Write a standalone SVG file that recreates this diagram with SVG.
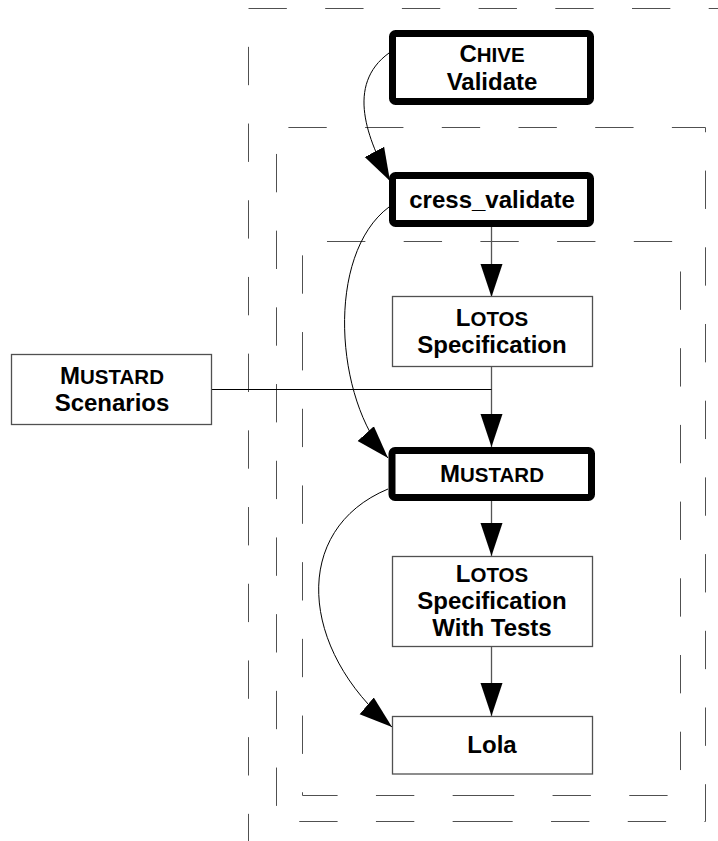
<svg xmlns="http://www.w3.org/2000/svg" width="718" height="841" viewBox="0 0 718 841">
  <style>
    .bg { fill: #ffffff; }
    .frame { fill: none; stroke: #505050; stroke-width: 1; stroke-dasharray: 38.35 38.35; }
    .box { fill: #ffffff; stroke: #505050; stroke-width: 1.3; }
    .tool { fill: #ffffff; stroke: #000000; stroke-width: 7; stroke-linejoin: round; }
    .lbl { font-family: "Liberation Sans", Arial, sans-serif; font-weight: bold; font-size: 24px; fill: #000000; text-anchor: middle; }
    .sc { font-size: 20.5px; }
    .flow { fill: none; stroke: #555555; stroke-width: 1.3; }
    .curve { fill: none; stroke: #000000; stroke-width: 1; }
    .join { fill: none; stroke: #000000; stroke-width: 1.2; }
  </style>
  <defs>
    <marker id="head" markerUnits="userSpaceOnUse" markerWidth="34" markerHeight="24" viewBox="0 0 34 24" refX="33" refY="12" orient="auto">
      <path d="M0,1 L33,12 L0,23 Z" fill="#000000"/>
    </marker>
  </defs>

  <rect class="bg" x="0" y="0" width="718" height="841"/>

  <!-- nested dashed frames -->
  <g id="frames">
    <path class="frame" d="M248.5,841 V8.5 H718" stroke-dashoffset="11.2"/>
    <path class="frame" d="M491,821.5 H276.5 V127.5 H705.5 V821.5 Z"/>
    <path class="frame" d="M491,795.5 H302.5 V241.5 H680.5 V795.5 Z"/>
  </g>

  <!-- connectors -->
  <g id="connectors">
    <path class="curve" d="M389,53 C345,85 368,140 390,181" marker-end="url(#head)"/>
    <path class="curve" d="M389,207 C325,255 335,400 388,458" marker-end="url(#head)"/>
    <path class="curve" d="M388,489 C290,530 300,650 392,727" marker-end="url(#head)"/>
    <path class="flow" d="M491.5,227 V297" marker-end="url(#head)"/>
    <path class="flow" d="M491.5,366 V447" marker-end="url(#head)"/>
    <path class="join" d="M212,389.5 H491.5"/>
    <path class="flow" d="M491.5,501 V556" marker-end="url(#head)"/>
    <path class="flow" d="M491.5,646 V716" marker-end="url(#head)"/>
  </g>

  <g id="chive-validate">
    <rect class="tool" x="392.5" y="33.5" width="198" height="68" rx="3"/>
    <text class="lbl" x="492" y="62">C<tspan class="sc">HIVE</tspan></text>
    <text class="lbl" x="492" y="90">Validate</text>
  </g>

  <g id="cress-validate">
    <rect class="tool" x="392.5" y="175.5" width="198" height="48" rx="3"/>
    <text class="lbl" x="492" y="208">cress_validate</text>
  </g>

  <g id="lotos-spec">
    <rect class="box" x="392.5" y="296.5" width="200" height="70"/>
    <text class="lbl" x="492" y="326">L<tspan class="sc">OTOS</tspan></text>
    <text class="lbl" x="492" y="353">Specification</text>
  </g>

  <g id="mustard-scenarios">
    <rect class="box" x="11.5" y="354.5" width="200" height="70"/>
    <text class="lbl" x="112" y="384">M<tspan class="sc">USTARD</tspan></text>
    <text class="lbl" x="112" y="411">Scenarios</text>
  </g>

  <g id="mustard">
    <rect class="tool" x="392" y="450.5" width="199.5" height="47" rx="3"/>
    <text class="lbl" x="492" y="482">M<tspan class="sc">USTARD</tspan></text>
  </g>

  <g id="lotos-spec-tests">
    <rect class="box" x="392.5" y="556.5" width="200" height="90"/>
    <text class="lbl" x="492" y="582">L<tspan class="sc">OTOS</tspan></text>
    <text class="lbl" x="492" y="609">Specification</text>
    <text class="lbl" x="492" y="636">With Tests</text>
  </g>

  <g id="lola">
    <rect class="box" x="392.5" y="716.5" width="200" height="57.5"/>
    <text class="lbl" x="492" y="753">Lola</text>
  </g>
</svg>
